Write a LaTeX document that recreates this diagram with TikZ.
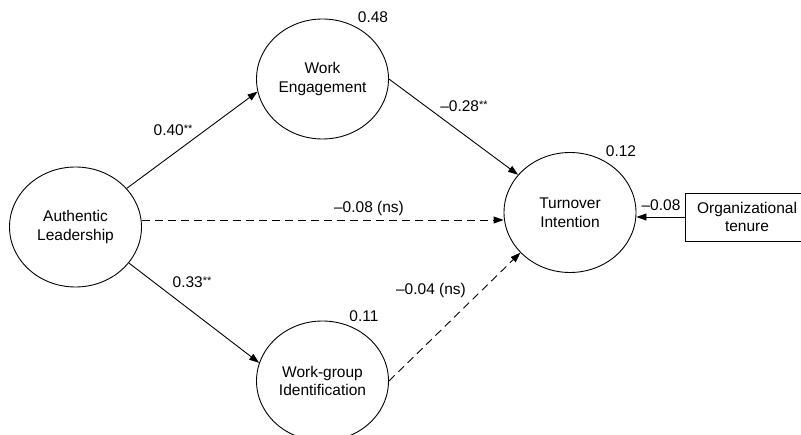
\documentclass[tikz,border=0pt]{standalone}
\usepackage{fontspec}
\setmainfont{Liberation Sans}
\usetikzlibrary{shapes.geometric,arrows.meta}
\newcommand{\sigst}{\raisebox{3pt}{\fontsize{11}{11}\selectfont **}}
\begin{document}
\begin{tikzpicture}[x=1pt,y=-1pt,
  every node/.style={font=\fontsize{15.5}{18.5}\selectfont},
  latent/.style={ellipse,draw,line width=0.9pt,minimum width=132pt,minimum height=120pt,inner sep=0pt,align=center},
  obs/.style={rectangle,draw,line width=0.9pt,minimum width=124pt,minimum height=48pt,inner sep=0pt,align=center},
  arr/.style={line width=0.9pt,-{Triangle[length=10pt,width=7pt]}},
  nsarr/.style={arr,dash pattern=on 8pt off 5pt},
  lab/.style={anchor=base,inner sep=0pt}]
\useasboundingbox (0,0) rectangle (801,435);
\clip (0,0) rectangle (801,435);
\fill[white] (0,0) rectangle (801,435);

\node[latent] (AL) at (75.5,227) {Authentic\\Leadership};
\node[latent] (WE) at (322.5,79) {Work\\Engagement};
\node[latent] (TI) at (570,212.5) {Turnover\\Intention};
\node[latent] (WGI) at (322.5,381) {Work-group\\Identification};
\node[obs] (OT) at (747,217) {Organizational\\tenure};

\coordinate (dl) at (0,220);

\draw[arr] (AL.37) -- (WE.191);
\draw[arr] (AL.-34) -- (WGI.164);
\draw[arr] (WE.0) -- (TI.144);
\draw[nsarr] (WGI.0) -- (TI.219);
\draw[nsarr] (AL.east |- dl) -- (TI.west |- dl);
\draw[arr] (OT.west) -- (TI.east |- OT.west);

\node[lab] (r2we) at (373,22.5) {0.48};
\node[lab] (r2ti) at (621,156.5) {0.12};
\node[lab] (r2wgi) at (364,321.5) {0.11};
\node[lab] (lalwe) at (173,135.5) {0.40\sigst};
\node[lab] (lalwgi) at (192,287.5) {0.33\sigst};
\node[lab] (lweti) at (464,111.5) {--0.28\sigst};
\node[lab] (lwgiti) at (431,294.5) {--0.04 (ns)};
\node[lab] (lalti) at (369,212.5) {--0.08 (ns)};
\node[lab] (lotti) at (661,210.5) {--0.08};
\end{tikzpicture}
\end{document}
